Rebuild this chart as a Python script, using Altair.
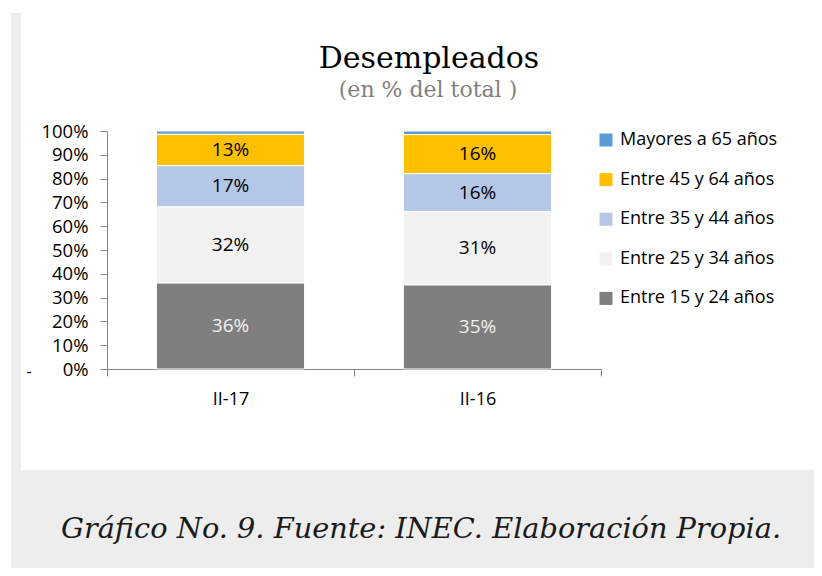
import altair as alt
import pandas as pd

periods = ["II-17", "II-16"]
groups = ["Mayores a 65 años", "Entre 45 y 64 años", "Entre 35 y 44 años",
          "Entre 25 y 34 años", "Entre 15 y 24 años"]
colors = ["#5b9bd5", "#ffc000", "#b4c7e7", "#f2f2f2", "#7f7f7f"]
values_ii17 = [1.4, 13.2, 17.3, 32.0, 36.1]
values_ii16 = [1.5, 16.4, 16.0, 30.8, 35.3]
y_ticks = [0, 10, 20, 30, 40, 50, 60, 70, 80, 90, 100]

title_text = "Desempleados"
subtitle_text = "(en % del total )"
caption_text = "Gráfico No. 9. Fuente: INEC. Elaboración Propia."

rows = []
for p, vals in zip(periods, [values_ii17, values_ii16]):
    for i, (g, v) in enumerate(zip(groups, vals)):
        rows.append({
            "period": p,
            "group": g,
            "value": v,
            "ord": len(groups) - 1 - i,
            "label": "" if g == groups[0] else f"{round(v)}%",
        })
df = pd.DataFrame(rows)

AXIS_COLOR = "#868686"
LABEL_FONT = "Open Sans"

base = alt.Chart(df).transform_stack(
    stack="value", groupby=["period"], sort=[alt.SortField("ord")], as_=["v0", "v1"]
).transform_calculate(mid="(datum.v0 + datum.v1) / 2")

y_axis = alt.Axis(title=None, values=y_ticks, labelExpr="datum.value + '%'",
                  grid=False, tickSize=7, labelPadding=12, labelOverlap=False,
                  domainColor=AXIS_COLOR, tickColor=AXIS_COLOR,
                  labelFont=LABEL_FONT, labelFontSize=18.5, labelColor="#000000")
y_scale = alt.Scale(domain=[0, 100], nice=False)

bars = base.mark_bar(stroke="white", strokeWidth=1).encode(
    x=alt.X("period:N", sort=periods,
            scale=alt.Scale(paddingInner=0.4, paddingOuter=0.2), axis=None),
    y=alt.Y("v0:Q", scale=y_scale, axis=y_axis),
    y2="v1:Q",
    color=alt.Color("group:N", scale=alt.Scale(domain=groups, range=colors),
                    legend=alt.Legend(title=None, orient="none", legendX=490, legendY=0,
                                      symbolType="square", symbolSize=169,
                                      symbolStrokeWidth=0, labelFont=LABEL_FONT,
                                      labelFontSize=18, labelColor="#000000",
                                      rowPadding=21.6, labelOffset=5, padding=0)),
)

labels = base.mark_text(font=LABEL_FONT, fontSize=19).encode(
    x=alt.X("period:N", sort=periods,
            scale=alt.Scale(paddingInner=0, paddingOuter=0),
            axis=alt.Axis(title=None, labelAngle=0, tickBand="extent", tickSize=7,
                          domainColor=AXIS_COLOR, tickColor=AXIS_COLOR,
                          labelFont=LABEL_FONT, labelFontSize=18, labelColor="#000000",
                          labelPadding=14)),
    y=alt.Y("mid:Q", scale=y_scale, axis=y_axis),
    text="label:N",
    color=alt.condition(alt.datum.group == "Entre 15 y 24 años",
                        alt.value("#f2f2f2"), alt.value("#000000")),
)

one = alt.Data(values=[{"k": 1}])

strip = alt.Chart(one).mark_rect(color="#ededed").encode(
    x=alt.value(-96), x2=alt.value(-86), y=alt.value(-118), y2=alt.value(340))
cap_box = alt.Chart(one).mark_rect(color="#ededed").encode(
    x=alt.value(-96), x2=alt.value(707), y=alt.value(339), y2=alt.value(437))

title = alt.Chart(one).mark_text(text=title_text, font="DejaVu Serif", fontSize=30,
                                 color="#000000", baseline="alphabetic").encode(
    x=alt.value(322), y=alt.value(-63))
subtitle = alt.Chart(one).mark_text(text=subtitle_text, font="DejaVu Serif", fontSize=22,
                                    color="#7f7f7f", baseline="alphabetic").encode(
    x=alt.value(321), y=alt.value(-34))
caption = alt.Chart(one).mark_text(text=caption_text, font="DejaVu Serif", fontSize=28.8,
                                   fontStyle="italic", color="#1a1a1a",
                                   baseline="alphabetic").encode(
    x=alt.value(314), y=alt.value(407))
dash = alt.Chart(one).mark_text(text="-", font=LABEL_FONT, fontSize=17,
                                color="#000000").encode(
    x=alt.value(-78), y=alt.value(241))

chart = alt.layer(strip, cap_box, bars, labels, title, subtitle, caption, dash).resolve_scale(
    x="independent"
).properties(
    width=494, height=238,
    autosize=alt.AutoSizeParams(type="none"),
    padding={"left": 99, "top": 123, "right": 213, "bottom": 199},
    background="white",
).configure_view(stroke=None)

chart.save("out.html", embed_options={"renderer": "svg", "actions": False})
